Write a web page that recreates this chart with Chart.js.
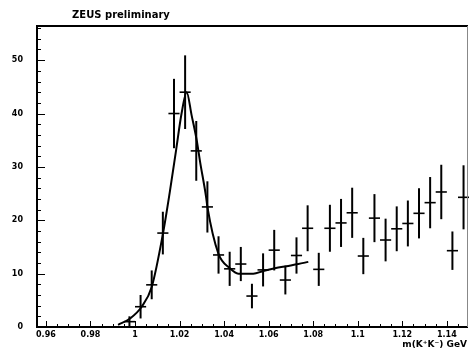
<!DOCTYPE html>
<html>
<head>
<meta charset="utf-8">
<style>
  html, body { margin: 0; padding: 0; background: #fff; }
  #wrap { width: 469px; height: 352px; }
</style>
<script src="https://cdn.jsdelivr.net/npm/chart.js@4.4.1/dist/chart.umd.min.js"></script>
</head>
<body>
<div id="wrap"><canvas id="c" width="469" height="352"></canvas></div>
<script>
// K+K- invariant mass spectrum: bin centres (GeV), entries and errors
const massBins = [0.9975, 1.0025, 1.0075, 1.0125, 1.0175, 1.0225, 1.0275, 1.0325, 1.0375, 1.0425,
                  1.0475, 1.0525, 1.0575, 1.0625, 1.0675, 1.0725, 1.0775, 1.0825, 1.0875, 1.0925,
                  1.0975, 1.1025, 1.1075, 1.1125, 1.1175, 1.1225, 1.1275, 1.1325, 1.1375, 1.1425, 1.1475];
const counts   = [1.0, 3.8, 7.9, 17.6, 40.0, 44.0, 33.0, 22.5, 13.5, 10.9,
                  11.8, 5.8, 10.7, 14.4, 8.8, 13.4, 18.5, 10.8, 18.5, 19.5,
                  21.4, 13.3, 20.4, 16.3, 18.4, 19.4, 21.3, 23.3, 25.3, 14.3, 24.3];
const errors   = [1.0, 2.2, 2.7, 4.0, 6.5, 6.9, 5.6, 4.8, 3.5, 3.2,
                  3.2, 2.3, 3.1, 3.8, 2.7, 3.4, 4.3, 3.1, 4.4, 4.5,
                  4.7, 3.4, 4.5, 4.0, 4.2, 4.3, 4.7, 4.8, 5.1, 3.6, 6.0];
const binHalfWidth = 0.0025;

// fitted signal + background curve
const fitMass = [0.9924, 0.9978, 1.0030, 1.0075, 1.0126, 1.0157, 1.0184, 1.0209, 1.0232, 1.0254,
                 1.0277, 1.0292, 1.0319, 1.0325, 1.0374, 1.0426, 1.0464, 1.0531, 1.0576, 1.0628,
                 1.0680, 1.0733, 1.0778];
const fitValue = [0.4, 1.6, 3.8, 7.5, 17.6, 25.5, 33.0, 40.0, 44.0, 39.7,
                  35.0, 31.0, 24.4, 22.5, 13.8, 11.0, 10.0, 10.0, 10.5, 11.0,
                  11.4, 11.8, 12.2];

// axis ticks
const xTickValues = [0.96, 0.98, 1.00, 1.02, 1.04, 1.06, 1.08, 1.10, 1.12, 1.14];
const xTickLabels = ['0.96', '0.98', '1', '1.02', '1.04', '1.06', '1.08', '1.1', '1.12', '1.14'];
const yTickValues = [0, 10, 20, 30, 40, 50];
const yTickLabels = ['0', '10', '20', '30', '40', '50'];

const FONT = 'DejaVu Sans';

const histPoints = massBins.map((m, i) => ({ x: m, y: counts[i], err: errors[i] }));
const fitPoints = fitMass.map((m, i) => ({ x: m, y: fitValue[i] }));

// frame, inward tick marks, error crosses and the captions
const framePlugin = {
  id: 'frame',
  afterDatasetsDraw(chart) {
    const { ctx, chartArea: a, scales: { x, y } } = chart;
    ctx.save();
    ctx.strokeStyle = '#000';
    ctx.lineCap = 'butt';

    // data crosses
    histPoints.forEach(p => {
      const px = x.getPixelForValue(p.x);
      const py = y.getPixelForValue(p.y);
      const x0 = x.getPixelForValue(p.x - binHalfWidth);
      const x1 = x.getPixelForValue(p.x + binHalfWidth);
      const y0 = y.getPixelForValue(Math.max(0, p.y - p.err));
      const y1 = y.getPixelForValue(p.y + p.err);
      ctx.lineWidth = 1.6;
      ctx.beginPath();
      ctx.moveTo(x0, py); ctx.lineTo(x1, py);
      ctx.stroke();
      ctx.lineWidth = 2;
      ctx.beginPath();
      ctx.moveTo(px, y0); ctx.lineTo(px, y1);
      ctx.stroke();
    });

    // x ticks: major every 0.02, minor every 0.005
    ctx.lineWidth = 1;
    for (let k = 0; k <= 40; k++) {
      const v = 0.96 + k * 0.005;
      if (v > x.max) break;
      const px = Math.round(x.getPixelForValue(v)) + 0.5;
      const len = (k % 4 === 0) ? 6 : 3;
      ctx.beginPath();
      ctx.moveTo(px, a.bottom); ctx.lineTo(px, a.bottom - len);
      ctx.stroke();
    }
    // y ticks: major every 10, minor every 2
    for (let v = 0; v <= y.max; v += 2) {
      const py = Math.round(y.getPixelForValue(v)) + 0.5;
      const len = (v % 10 === 0) ? 8 : 4;
      ctx.beginPath();
      ctx.moveTo(a.left, py); ctx.lineTo(a.left + len, py);
      ctx.stroke();
    }

    // frame
    ctx.lineWidth = 2;
    ctx.beginPath();
    ctx.moveTo(a.right, a.top); ctx.lineTo(a.left, a.top);
    ctx.lineTo(a.left, a.bottom); ctx.lineTo(a.right, a.bottom);
    ctx.stroke();
    ctx.strokeStyle = '#888';
    ctx.lineWidth = 1;
    ctx.beginPath();
    ctx.moveTo(a.right - 0.5, a.top); ctx.lineTo(a.right - 0.5, a.bottom);
    ctx.stroke();

    // captions
    ctx.fillStyle = '#000';
    ctx.font = 'bold 10px ' + FONT;
    ctx.textAlign = 'center';
    ctx.textBaseline = 'middle';
    ctx.fillText('ZEUS preliminary', 121, 15);
    ctx.font = 'bold 9px ' + FONT;
    ctx.textAlign = 'right';
    ctx.fillText('m(K\u207AK\u207B) GeV', 467, 345);
    ctx.restore();
  }
};

new Chart(document.getElementById('c'), {
  type: 'scatter',
  data: {
    datasets: [
      {
        label: 'data',
        data: histPoints,
        pointRadius: 0,
        showLine: false
      },
      {
        label: 'fit',
        type: 'line',
        data: fitPoints,
        borderColor: '#000',
        borderWidth: 2,
        pointRadius: 0,
        fill: false,
        cubicInterpolationMode: 'monotone'
      }
    ]
  },
  options: {
    responsive: false,
    animation: false,
    devicePixelRatio: 1,
    layout: { padding: { top: 26, right: 1, left: 0, bottom: 0 } },
    plugins: { legend: { display: false }, tooltip: { enabled: false }, title: { display: false } },
    scales: {
      x: {
        type: 'linear',
        min: 0.956,
        max: 1.1495,
        grid: { display: false, drawTicks: false },
        border: { display: false },
        afterBuildTicks(scale) { scale.ticks = xTickValues.map(v => ({ value: v })); },
        afterFit(scale) { scale.height = 25; },
        ticks: {
          padding: 3,
          color: '#000',
          font: { family: FONT, size: 8, weight: 'bold' },
          maxRotation: 0,
          autoSkip: false,
          callback: (v, i) => xTickLabels[i]
        }
      },
      y: {
        type: 'linear',
        min: 0,
        max: 56.4,
        grid: { display: false, drawTicks: false },
        border: { display: false },
        afterBuildTicks(scale) { scale.ticks = yTickValues.map(v => ({ value: v })); },
        afterFit(scale) { scale.width = 37; },
        ticks: {
          padding: 14,
          color: '#000',
          font: { family: FONT, size: 8, weight: 'bold' },
          autoSkip: false,
          callback: (v, i) => yTickLabels[i]
        }
      }
    }
  },
  plugins: [framePlugin]
});
</script>
</body>
</html>
